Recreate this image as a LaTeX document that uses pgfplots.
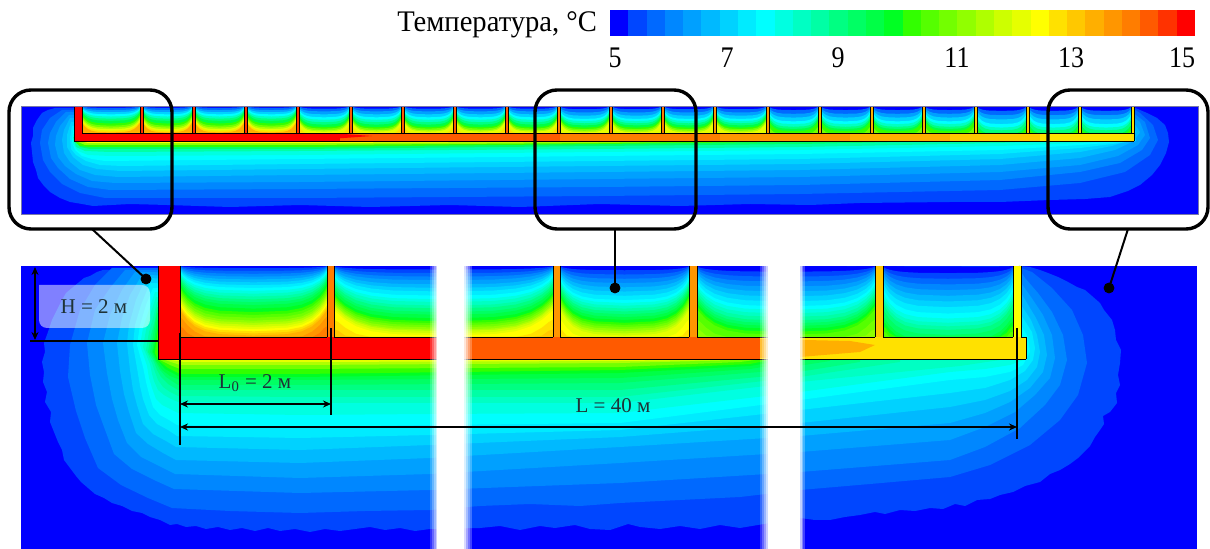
\documentclass[border=0pt]{standalone}
\usepackage{fontspec}
\setmainfont{Liberation Serif}
\usepackage{graphicx}
\usepackage{pgfplots}
\usepackage{pgfplotstable}
\pgfplotsset{compat=1.18}
\usetikzlibrary{arrows.meta}

% colour levels of the scale, 5 to 15 C
\definecolor{c0}{RGB}{0,0,255}\definecolor{c1}{RGB}{0,70,255}\definecolor{c2}{RGB}{0,105,255}\definecolor{c3}{RGB}{0,135,255}
\definecolor{c4}{RGB}{0,160,255}\definecolor{c5}{RGB}{0,185,255}\definecolor{c6}{RGB}{0,210,255}\definecolor{c7}{RGB}{0,235,255}
\definecolor{c8}{RGB}{0,255,255}\definecolor{c9}{RGB}{0,255,225}\definecolor{c10}{RGB}{0,255,195}\definecolor{c11}{RGB}{0,255,165}
\definecolor{c12}{RGB}{0,255,130}\definecolor{c13}{RGB}{0,255,100}\definecolor{c14}{RGB}{0,255,70}\definecolor{c15}{RGB}{0,255,35}
\definecolor{c16}{RGB}{50,255,0}\definecolor{c17}{RGB}{85,255,0}\definecolor{c18}{RGB}{115,255,0}\definecolor{c19}{RGB}{145,255,0}
\definecolor{c20}{RGB}{175,255,0}\definecolor{c21}{RGB}{205,255,0}\definecolor{c22}{RGB}{230,255,0}\definecolor{c23}{RGB}{255,255,0}
\definecolor{c24}{RGB}{255,225,0}\definecolor{c25}{RGB}{255,200,0}\definecolor{c26}{RGB}{255,175,0}\definecolor{c27}{RGB}{255,150,0}
\definecolor{c28}{RGB}{255,125,0}\definecolor{c29}{RGB}{255,90,0}\definecolor{c30}{RGB}{255,50,0}\definecolor{c31}{RGB}{255,0,0}
\definecolor{labelc}{RGB}{30,50,55}
\definecolor{edgec}{RGB}{120,120,170}

% shape of one isotherm between two partitions
\pgfplotstableread{
u ra rb
0 .05 .65
.02 .3 .7
.05 .5 .78
.1 .7 .87
.17 .85 .94
.27 .95 .98
.5 1 1
.73 .95 .98
.83 .85 .94
.9 .7 .87
.95 .5 .78
.98 .3 .7
1 .05 .65
1 100 100
0 100 100
}\celltpl

% depth/level lists
\def\clsA{.01/0,.03/1,.07/2,.11/3,.15/4,.19/5,.23/6,.27/7,.31/8,.35/9,.39/10,.43/11,.47/12,.51/13,.55/14,.6/15,.65/16,.69/17,.73/18,.77/19,.8/20,.83/21,.86/22,.89/23,.92/24,.95/25,.98/26,1.05/27,1.15/28}
\def\clsB{.01/0,.05/1,.1/2,.15/3,.2/4,.26/5,.31/6,.36/7,.42/8,.47/9,.51/10,.56/11,.6/12,.65/13,.69/14,.74/15,.78/16,.81/17,.84/18,.87/19,.9/20,.92/21,.95/22,.98/23,1.08/24,1.18/25}
\def\clsC{.01/0,.06/1,.12/2,.18/3,.24/4,.3/5,.36/6,.42/7,.48/8,.52/9,.56/10,.6/11,.64/12,.68/13,.72/14,.76/15,.8/16,.83/17,.86/18,.89/19,.92/20,.95/21,.98/22,1.08/23,1.18/24}
\def\clsD{.01/0,.08/1,.15/2,.22/3,.29/4,.36/5,.43/6,.5/7,.57/8,.62/9,.67/10,.72/11,.77/12,.81/13,.85/14,.89/15,.93/16,.97/17,1.08/18,1.18/19}
\def\clsE{.01/0,.1/1,.18/2,.26/3,.34/4,.42/5,.5/6,.58/7,.67/8,.74/9,.8/10,.85/11,.9/12,.97/13,1.05/14,1.1/15,1.15/16,1.2/17}
\def\topA{.01/0,.07/2,.15/4,.23/6,.31/8,.39/10,.47/12,.55/14,.65/16,.73/18,.8/20,.86/22,.92/24,.98/26}
\def\topB{.01/0,.1/2,.2/4,.31/6,.42/8,.51/10,.6/12,.69/14,.78/16,.84/18,.9/20,.95/22,1.1/24}
\def\topC{.01/0,.12/2,.24/4,.36/6,.48/8,.56/10,.64/12,.72/14,.8/16,.86/18,.92/20,.98/22}
\def\topD{.01/0,.15/2,.29/4,.43/6,.57/8,.67/10,.77/12,.85/14,.93/16,1.1/18}
\def\topE{.01/0,.18/2,.34/4,.5/6,.67/8,.8/10,.9/12,1.05/14,1.15/16}

\newcommand\cellfield[5]{%
  \foreach \dd/\cc in #5 {%
    \edef\temp{\noexpand\addplot[draw=none,fill=c\cc] table[
      x expr={#1+#2*\noexpand\thisrow{u}},
      y expr={#3+#4*min(1,\dd*((1-\dd)*\noexpand\thisrow{ra}+\dd*\noexpand\thisrow{rb}))}]{\noexpand\celltpl};}\temp
  }}
\newcommand\lev[2]{\addplot[draw=none,fill=c#1] coordinates {#2};}
\newcommand\rect[5]{\addplot[draw=none,fill=#1] coordinates {(#2,#4)(#3,#4)(#3,#5)(#2,#5)};}
\newcommand\seg[5][black]{\addplot[#1,line width=.4pt] coordinates {(#2,#3)(#4,#5)};}
\newcommand\wall[5]{\rect{#1}{#2}{#3}{#4}{#5}\seg{#2}{#4}{#2}{#5}\seg{#3}{#4}{#3}{#5}}

\begin{document}
\begin{tikzpicture}
\begin{axis}[
  scale only axis, width=605pt, height=274.5pt,
  xmin=0, xmax=1210, ymin=0, ymax=549, y dir=reverse,
  hide axis, enlargelimits=false,
  ]
\rect{white}{0}{1210}{0}{549}
% colour scale
\foreach \i/\a/\b in {0/610/628.3,1/628.3/646.6,2/646.6/664.8,3/664.8/683.1,4/683.1/701.4,5/701.4/719.7,6/719.7/738,7/738/756.3,8/756.3/774.5,9/774.5/792.8,10/792.8/811.1,11/811.1/829.4,12/829.4/847.7,13/847.7/865.9,14/865.9/884.2,15/884.2/902.5,16/902.5/920.8,17/920.8/939.1,18/939.1/957.3,19/957.3/975.6,20/975.6/993.9,21/993.9/1012.2,22/1012.2/1030.5,23/1030.5/1048.8,24/1048.8/1067,25/1067/1085.3,26/1085.3/1103.6,27/1103.6/1121.9,28/1121.9/1140.2,29/1140.2/1158.4,30/1158.4/1176.7,31/1176.7/1195}{%
  \edef\temp{\noexpand\rect{c\i}{\a}{\b}{10}{36}}\temp}

% top panel
\rect{c0}{21}{1198}{106}{214}
\lev{1}{(55,108)(48,110)(42,113)(37,120)(33,128)(33,136)(31,143)(32,152)(33,162)(36,170)(38,178)(44,186)(50,192)(60,198)(70,202)(82,204)(93,206)(130,204)(167,205)(230,207)(300,205)(370,207)(450,205)(520,207)(600,204)(680,206)(750,204)(810,205)(860,203)(950,202)(1000,202)(1050,200)(1085,199)(1110,197)(1128,191)(1140,185)(1152,175)(1160,165)(1166,153)(1169,142)(1168,133)(1165,125)(1157,118)(1147,113)(1133,107)}
\lev{2}{(62,110)(50,118)(42,130)(40,143)(43,160)(50,172)(62,184)(80,193)(105,198)(133,198)(300,198)(450,197)(600,196)(800,194)(1000,190)(1080,183)(1125,172)(1150,155)(1158,140)(1153,125)(1140,113)(1132,108)}
\lev{3}{(66,112)(56,122)(50,133)(48,143)(51,158)(58,168)(70,179)(88,187)(110,190)(300,189)(600,187)(800,185)(1000,180)(1080,172)(1120,163)(1142,150)(1150,138)(1145,122)(1132,112)}
\lev{4}{(69,115)(60,126)(56,136)(55,145)(58,157)(65,166)(76,174)(92,181)(115,183)(300,182)(600,179)(800,177)(1000,172)(1080,165)(1118,156)(1138,145)(1145,135)(1140,122)(1132,116)}
\lev{5}{(70,118)(64,130)(62,140)(64,153)(70,162)(80,170)(95,175)(118,177)(300,175)(600,172)(800,170)(1000,165)(1080,158)(1115,150)(1134,141)(1140,132)(1132,120)}
\lev{6}{(71,122)(67,135)(67,147)(73,157)(83,165)(97,169)(120,171)(300,169)(600,166)(800,164)(1000,159)(1080,152)(1112,146)(1130,140)(1136,132)(1132,124)}
\lev{7}{(72,126)(70,138)(71,149)(76,155)(86,161)(100,165)(122,166)(300,164)(600,161)(800,159)(1000,154)(1080,148)(1136,141)(1132,128)}
\lev{8}{(73,130)(72,142)(75,150)(82,156)(92,159)(105,161)(300,159)(600,156)(800,154)(1000,150)(1080,145)(1134,141)(1132,133)}
\lev{9}{(73,134)(73,144)(78,151)(88,155)(110,156)(300,155)(600,152)(800,150)(1000,146)(1080,143)(1110,141)(1110,135)}
\lev{11}{(73,137)(76,147)(85,151)(110,152)(300,151)(600,149)(800,147)(1000,143)(1040,141)(1040,135)}
\lev{13}{(74,139)(80,147)(90,149)(300,149)(600,146)(800,144)(950,141)(950,135)}
\lev{16}{(74,141)(80,146)(90,147)(300,147)(600,144)(780,142)(860,141)(860,135)}
\lev{19}{(76,141)(85,145)(300,145)(600,143)(760,141)(760,135)}
\lev{23}{(78,141)(88,143)(300,143)(600,142)(700,141)(700,135)}
% top panel cells
\cellfield{82}{58}{106}{27}{\topA}
\cellfield{143}{49}{106}{27}{\topA}
\cellfield{195}{49}{106}{27}{\topA}
\cellfield{247}{49}{106}{27}{\topA}
\cellfield{299}{50}{106}{27}{\topB}
\cellfield{352}{49}{106}{27}{\topB}
\cellfield{404}{49}{106}{27}{\topB}
\cellfield{456}{49}{106}{27}{\topB}
\cellfield{508}{49}{106}{27}{\topB}
\cellfield{560}{49}{106}{27}{\topC}
\cellfield{612}{49}{106}{27}{\topC}
\cellfield{664}{49}{106}{27}{\topC}
\cellfield{716}{50}{106}{27}{\topC}
\cellfield{769}{49}{106}{27}{\topD}
\cellfield{821}{49}{106}{27}{\topD}
\cellfield{873}{49}{106}{27}{\topD}
\cellfield{925}{49}{106}{27}{\topD}
\cellfield{977}{49}{106}{27}{\topE}
\cellfield{1029}{49}{106}{27}{\topE}
\cellfield{1081}{50}{106}{27}{\topE}
% top panel foundation
\rect{c31}{74}{82}{106}{141}
\rect{c31}{82}{372}{133}{141}
\rect{c29}{340}{560}{133}{141}
\lev{31}{(330,133)(372,136)(330,139)}
\rect{c28}{560}{720}{133}{141}
\rect{c27}{720}{850}{133}{141}
\rect{c26}{850}{950}{133}{141}
\rect{c25}{950}{1040}{133}{141}
\rect{c24}{1040}{1134}{133}{141}
\foreach \a/\b/\cc in {140/143/30,192/195/30,244/247/30,296/299/30,349/352/29,401/404/29,453/456/29,505/508/29,557/560/28,609/612/28,661/664/28,713/716/27,766/769/27,818/821/26,870/873/26,922/925/26,974/977/25,1026/1029/25,1078/1081/24,1131/1134/24}{%
  \edef\temp{\noexpand\wall{c\cc}{\a}{\b}{106}{133}}\temp}
\seg{74}{106}{74}{141}
\seg{82}{106}{82}{133}
\seg{82}{133}{1134}{133}
\seg{74}{141}{1134}{141}
\seg{1134}{133}{1134}{141}
\addplot[edgec,line width=.4pt] coordinates {(21,106)(1198,106)(1198,214)(21,214)(21,106)};

% bottom panel
\rect{c0}{21}{1197}{266}{549}
\lev{1}{(103,270)(97,272)(90,276)(84,278)(78,283)(72,288)(66,293)(62,300)(57,310)(52,320)(48,332)(44,343)(45,352)(42,362)(44,372)(43,382)(47,392)(45,402)(51,412)(50,422)(54,432)(58,442)(62,450)(64,460)(70,468)(76,476)(81,482)(88,488)(95,494)(104,498)(112,503)(122,506)(132,511)(142,513)(150,517)(160,520)(170,525)(177,524)(186,527)(196,526)(206,529)(218,527)(230,530)(242,528)(255,531)(268,528)(280,531)(295,529)(310,532)(325,529)(340,531)(355,529)(370,527)(385,530)(400,528)(415,531)(430,529)(480,528)(500,526)(520,530)(540,526)(555,528)(575,525)(590,529)(610,530)(628,524)(640,527)(660,529)(680,526)(700,529)(720,525)(740,528)(770,523)(800,518)(815,520)(830,520)(845,517)(860,515)(875,512)(885,514)(900,510)(915,511)(930,508)(943,509)(955,504)(965,506)(977,500)(990,499)(1000,495)(1013,492)(1025,486)(1040,482)(1050,474)(1060,470)(1070,464)(1078,458)(1083,453)(1090,446)(1095,437)(1100,430)(1104,424)(1103,416)(1110,412)(1117,403)(1116,393)(1120,385)(1118,375)(1120,363)(1121,350)(1116,340)(1115,330)(1112,320)(1104,310)(1100,303)(1092,296)(1085,290)(1077,287)(1068,282)(1058,277)(1048,273)(1040,270)(1030,267)(1020,266)}
\lev{2}{(112,268)(95,285)(80,310)(70,345)(68,377)(76,411)(85,438)(98,468)(121,485)(148,498)(172,508)(230,511)(300,513)(365,511)(430,510)(480,506)(530,504)(580,506)(620,503)(680,500)(740,497)(800,490)(870,484)(950,477)(990,465)(1030,445)(1060,420)(1078,395)(1087,363)(1083,335)(1072,310)(1052,288)(1032,272)(1021,268)}
\lev{3}{(125,270)(110,288)(95,310)(87,343)(90,375)(96,405)(104,427)(114,454)(132,469)(154,480)(174,489)(300,493)(430,490)(620,483)(800,472)(950,460)(985,447)(1020,428)(1045,405)(1060,385)(1067,360)(1063,335)(1052,312)(1038,293)(1025,278)(1021,272)}
\lev{4}{(135,272)(122,290)(110,315)(103,343)(107,373)(112,399)(118,420)(127,443)(141,457)(159,466)(175,474)(300,478)(430,474)(620,463)(800,452)(950,440)(985,427)(1015,412)(1035,395)(1050,378)(1055,358)(1052,335)(1043,315)(1031,297)(1021,283)}
\lev{5}{(142,275)(130,295)(122,318)(117,343)(120,371)(124,394)(129,412)(136,433)(148,444)(163,453)(176,460)(300,463)(430,458)(620,447)(800,436)(950,423)(985,413)(1010,402)(1030,388)(1043,372)(1047,355)(1044,335)(1036,318)(1027,303)(1021,293)}
\lev{6}{(146,278)(136,300)(129,325)(127,343)(130,370)(133,390)(137,405)(143,424)(153,434)(166,441)(176,447)(300,450)(430,445)(620,437)(800,423)(950,407)(985,400)(1010,391)(1027,380)(1037,367)(1040,352)(1037,335)(1031,320)(1021,305)}
\lev{7}{(150,283)(141,305)(135,325)(133,345)(137,368)(140,386)(143,399)(149,415)(157,424)(168,430)(177,436)(300,438)(430,435)(620,430)(800,410)(950,393)(985,388)(1010,380)(1025,371)(1033,360)(1035,348)(1032,332)(1021,315)}
\lev{8}{(153,288)(146,305)(140,325)(137,345)(143,367)(146,382)(149,394)(153,407)(160,415)(169,420)(177,425)(300,427)(430,425)(620,423)(800,400)(950,380)(985,377)(1010,372)(1023,365)(1030,352)(1028,337)(1021,325)}
\lev{9}{(155,292)(149,310)(143,328)(140,345)(147,366)(149,378)(152,388)(156,399)(162,405)(170,409)(178,413)(300,415)(430,414)(620,413)(800,392)(950,372)(985,369)(1010,365)(1026,359)(1026,340)}
\lev{10}{(156,297)(151,312)(146,330)(143,347)(150,364)(152,374)(154,381)(158,390)(164,395)(171,399)(178,402)(300,403)(430,403)(620,403)(800,382)(960,366)(1000,360)(1000,340)}
\lev{11}{(157,302)(153,318)(149,332)(146,350)(152,363)(155,372)(158,380)(163,387)(170,392)(178,396)(300,397)(430,397)(620,397)(800,377)(900,362)(900,340)}
\lev{12}{(157,307)(155,320)(151,335)(148,352)(154,362)(157,370)(161,377)(168,384)(178,390)(300,390)(620,390)(780,375)(860,362)(860,340)}
\lev{13}{(157,313)(153,335)(150,352)(155,361)(160,370)(166,377)(178,385)(300,385)(620,383)(760,372)(830,361)(830,340)}
\lev{14}{(157,320)(155,335)(152,352)(156,361)(162,370)(170,376)(180,380)(300,380)(620,378)(750,369)(800,361)(800,340)}
\lev{15}{(158,325)(156,338)(153,352)(157,360)(165,369)(180,377)(300,377)(620,373)(750,366)(785,360)(785,340)}
\lev{16}{(158,330)(156,343)(155,353)(158,360)(168,368)(180,374)(300,374)(620,370)(750,364)(770,360)(770,340)}
\lev{18}{(160,345)(160,360)(170,365)(180,369)(300,369)(620,367)(740,362)(755,360)(755,345)}
\lev{20}{(165,345)(165,360)(180,365)(300,365)(620,363)(740,360)(740,345)}
\lev{22}{(170,345)(170,360)(185,362)(300,362)(620,361)(720,360)(720,345)}
% bottom panel cells
\cellfield{180}{147}{266}{71}{\clsA}
\cellfield{334}{219}{266}{71}{\clsB}
\cellfield{560}{129}{266}{71}{\clsC}
\cellfield{697}{178}{266}{71}{\clsD}
\cellfield{883}{130}{266}{71}{\clsE}
% bottom panel foundation
\rect{c31}{158}{180}{266}{359}
\rect{c31}{180}{440}{337}{359}
\rect{c29}{440}{760}{337}{359}
\rect{c24}{760}{1026}{337}{359}
\lev{26}{(760,339)(850,341)(875,345)(860,352)(800,357)(760,358)}
\wall{c28}{327}{334}{266}{337}
\wall{c27}{553}{560}{266}{337}
\wall{c27}{689}{697}{266}{337}
\wall{c25}{875}{883}{266}{337}
\wall{c23}{1013}{1021}{266}{337}
\seg{180}{337}{327}{337}
\seg{334}{337}{553}{337}
\seg{560}{337}{689}{337}
\seg{697}{337}{875}{337}
\seg{883}{337}{1013}{337}
\seg{1021}{337}{1026}{337}
\seg{1026}{337}{1026}{359}
\seg{158}{359}{1026}{359}
\seg{158}{266}{158}{359}
\seg{180}{266}{180}{337}

% breaks in the long panel
\rect{white}{437}{464}{262}{549}
\rect{white,opacity=.2}{430}{432}{266}{549}
\rect{white,opacity=.4}{432}{434}{266}{549}
\rect{white,opacity=.6}{434}{435.5}{266}{549}
\rect{white,opacity=.8}{435.5}{437}{266}{549}
\rect{white,opacity=.85}{464}{466}{266}{549}
\rect{white,opacity=.65}{466}{468}{266}{549}
\rect{white,opacity=.45}{468}{470}{266}{549}
\rect{white,opacity=.25}{470}{472}{266}{549}
\rect{white}{768}{800}{262}{549}
\rect{white,opacity=.2}{760}{762}{266}{549}
\rect{white,opacity=.4}{762}{764}{266}{549}
\rect{white,opacity=.6}{764}{766}{266}{549}
\rect{white,opacity=.8}{766}{768}{266}{549}
\rect{white,opacity=.75}{800}{801.5}{266}{549}
\rect{white,opacity=.5}{801.5}{803}{266}{549}
\rect{white,opacity=.25}{803}{805}{266}{549}

% selection frames and leaders
\addplot[black,line width=1.7pt,rounded corners=11pt] coordinates {(90,90)(172,90)(172,229)(9,229)(9,90)(90,90)};
\addplot[black,line width=1.7pt,rounded corners=11pt] coordinates {(615,90)(696,90)(696,229)(535,229)(535,90)(615,90)};
\addplot[black,line width=1.7pt,rounded corners=11pt] coordinates {(1128,90)(1208,90)(1208,229)(1048,229)(1048,90)(1128,90)};
\addplot[black,line width=1pt] coordinates {(92,229)(146,279)};
\addplot[black,line width=1pt] coordinates {(615,229)(615,288)};
\addplot[black,line width=1pt] coordinates {(1128,229)(1109,288)};
\addplot[only marks,mark=*,mark size=2.5pt,black] coordinates {(146,279)(615,288)(1109,288)};

% dimensions
\addplot[draw=none,fill=white,fill opacity=.5,rounded corners=4pt] coordinates {(39,285)(150,285)(150,328)(39,328)(39,285)};
\addplot[black,line width=.8pt,{Stealth[length=4pt,width=3.5pt]}-{Stealth[length=4pt,width=3.5pt]}] coordinates {(35,267)(35,340)};
\addplot[black,line width=.6pt] coordinates {(30,341)(158,341)};
\addplot[black,line width=.6pt] coordinates {(180,333)(180,445)};
\addplot[black,line width=.6pt] coordinates {(331,328)(331,415)};
\addplot[black,line width=.6pt] coordinates {(1017,328)(1017,439)};
\addplot[black,line width=.6pt,{Stealth[length=4pt,width=3.5pt]}-{Stealth[length=4pt,width=3.5pt]}] coordinates {(180,404)(331,404)};
\addplot[black,line width=.6pt,{Stealth[length=4pt,width=3.5pt]}-{Stealth[length=4pt,width=3.5pt]}] coordinates {(180,427)(1017,427)};
\node[text=labelc,font=\fontsize{10.5}{10.5}\selectfont] at (axis cs:94,307) {H = 2 м};
\node[text=labelc,font=\fontsize{10.5}{10.5}\selectfont] at (axis cs:255,383) {L\textsubscript{0} = 2 м};
\node[text=labelc,font=\fontsize{10.5}{10.5}\selectfont] at (axis cs:613,406) {L = 40 м};

% scale texts
\node[anchor=east,font=\fontsize{13}{13}\selectfont] at (axis cs:604,25) {\scalebox{1.1}[1.15]{Температура, °C}};
\foreach \p/\t in {615/5,727/7,838/9,957/11,1071/13,1182/15}{%
  \edef\temp{\noexpand\node[font=\noexpand\fontsize{13}{13}\noexpand\selectfont] at (axis cs:\p,58) {\noexpand\scalebox{1}[1.15]{\t}};}\temp}
\end{axis}
\end{tikzpicture}
\end{document}
